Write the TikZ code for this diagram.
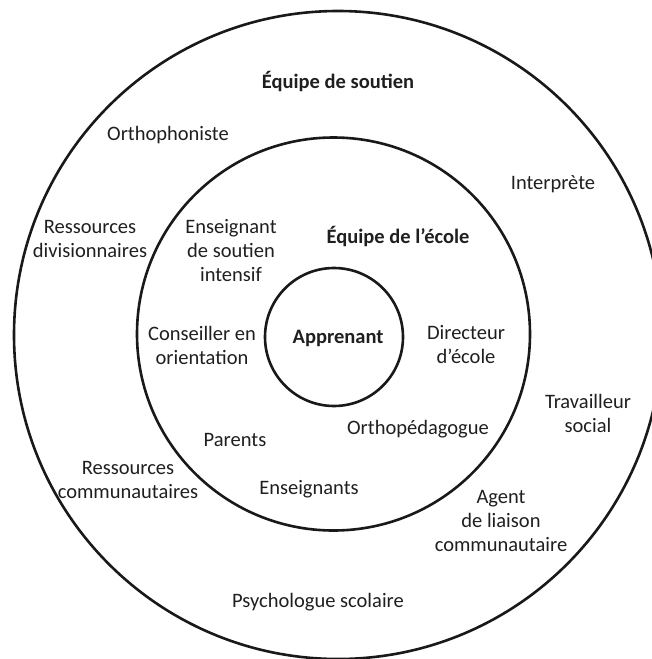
\documentclass[tikz,border=0pt]{standalone}
\usepackage{fontspec}
\setmainfont{Carlito}
\begin{document}
\begin{tikzpicture}[x=1pt,y=-1pt,
  ring/.style={circle, draw=black!90, line width=2.6pt, inner sep=0pt},
  lbl/.style={align=center, font=\fontsize{20.5}{24}\selectfont, text=black!88, inner sep=0pt},
  ttl/.style={lbl, font=\fontsize{20.5}{24}\selectfont\bfseries}]
\clip (0,0) rectangle (652,659);
% three concentric rings
\node[ring, minimum size=648pt] (outer) at (338,335) {};
\node[ring, minimum size=393pt] (middle) at (333.5,334) {};
\node[ring, minimum size=138pt] (inner) at (334,337) {};
% titles
\node[ttl] (soutien) at (338,82) {Équipe de soutien};
\node[ttl] (ecole) at (398,236) {Équipe de l’école};
\node[ttl] (apprenant) at (338,338) {Apprenant};
% support team
\node[lbl] (ortho) at (168,135) {Orthophoniste};
\node[lbl] (interp) at (553,184) {Interprète};
\node[lbl] (resdiv) at (90,239) {Ressources\\divisionnaires};
\node[lbl] (travail) at (588,413) {Travailleur\\social};
\node[lbl] (rescom) at (128,480) {Ressources\\communautaires};
\node[lbl] (agent) at (501,521) {Agent\\de liaison\\communautaire};
\node[lbl] (psy) at (318,602) {Psychologue scolaire};
% school team
\node[lbl] (esi) at (231,251) {Enseignant\\de soutien\\intensif};
\node[lbl] (conseil) at (202,345) {Conseiller en\\orientation};
\node[lbl] (dir) at (466,345) {Directeur\\d’école};
\node[lbl] (orthoped) at (418,429) {Orthopédagogue};
\node[lbl] (parents) at (235,440) {Parents};
\node[lbl] (ens) at (309,489) {Enseignants};
\end{tikzpicture}
\end{document}
